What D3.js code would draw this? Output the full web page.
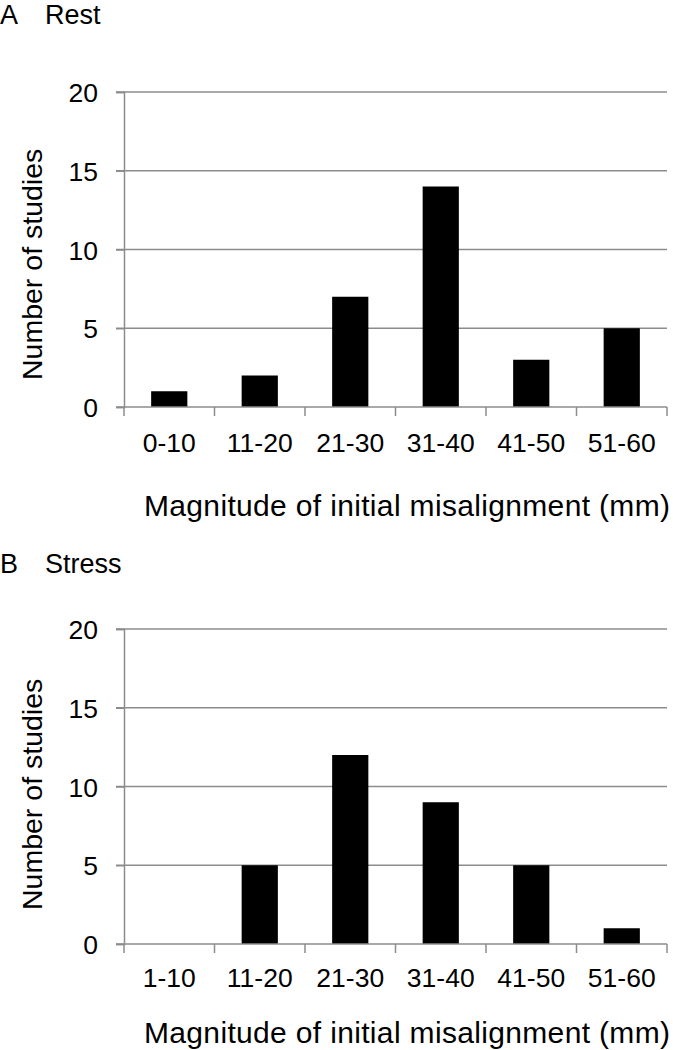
<!DOCTYPE html>
<html>
<head>
<meta charset="utf-8">
<script src="https://cdn.jsdelivr.net/npm/d3@7"></script>
<style>
  body { margin: 0; background: #fff; }
  svg text { font-family: "Liberation Sans", Arial, sans-serif; fill: #000; }
</style>
</head>
<body>
<svg id="chart" width="673" height="1050"></svg>
<script>
// data
const restCategories = ["0-10", "11-20", "21-30", "31-40", "41-50", "51-60"];
const restCounts = [1, 2, 7, 14, 3, 5];
const stressCategories = ["1-10", "11-20", "21-30", "31-40", "41-50", "51-60"];
const stressCounts = [0, 5, 12, 9, 5, 1];
const yTickValues = [0, 5, 10, 15, 20];
const xTitle = "Magnitude of initial misalignment (mm)";
const yTitle = "Number of studies";

const svg = d3.select("#chart");
const GRID = "#8c8c8c";
const FS = 26.5;

const drawPanel = ({ letter, name, categories, counts, titleY, top, bottom, tickLabelY, xTitleY, yTitleStart }) => {
  const g = svg.append("g");
  const x = d3.scaleBand().domain(categories).range([124, 667]).paddingInner(0).paddingOuter(0);
  const y = d3.scaleLinear().domain([0, 20]).range([bottom, top]);

  g.append("text").attr("x", 0).attr("y", titleY).style("font-size", "27px").text(letter);
  g.append("text").attr("x", 45).attr("y", titleY).style("font-size", "27px").text(name);

  // gridlines
  g.selectAll("line.grid")
    .data(yTickValues.filter((d) => d > 0))
    .enter()
    .append("line")
    .attr("class", "grid")
    .attr("x1", 116).attr("x2", 667)
    .attr("y1", (d) => y(d)).attr("y2", (d) => y(d))
    .attr("stroke", GRID).attr("stroke-width", 1.5);

  // bars
  const barW = x.bandwidth() * 0.4;
  g.selectAll("rect")
    .data(counts)
    .enter()
    .append("rect")
    .attr("x", (d, i) => x(categories[i]) + (x.bandwidth() - barW) / 2)
    .attr("y", (d) => y(d))
    .attr("width", barW)
    .attr("height", (d) => y(0) - y(d))
    .attr("fill", "#000");

  // y axis
  const yAxis = g.append("g")
    .attr("transform", "translate(124,0)")
    .call(d3.axisLeft(y).tickValues(yTickValues).tickSize(8).tickPadding(18));
  yAxis.select(".domain").attr("stroke", GRID).attr("stroke-width", 1.5);
  yAxis.selectAll(".tick line").attr("stroke", GRID).attr("stroke-width", 1.5);
  yAxis.selectAll(".tick text")
    .style("font-size", FS + "px")
    .attr("font-family", null)
    .attr("dy", "0.36em");

  // x axis: domain plus boundary ticks
  g.append("line")
    .attr("x1", 116).attr("x2", 667)
    .attr("y1", bottom).attr("y2", bottom)
    .attr("stroke", GRID).attr("stroke-width", 1.5);
  const edges = categories.map((c) => x(c)).concat([x.range()[1]]);
  g.selectAll("line.xtick")
    .data(edges)
    .enter()
    .append("line")
    .attr("class", "xtick")
    .attr("x1", (d) => d).attr("x2", (d) => d)
    .attr("y1", bottom).attr("y2", bottom + 9)
    .attr("stroke", GRID).attr("stroke-width", 1.5);
  g.selectAll("text.xlab")
    .data(categories)
    .enter()
    .append("text")
    .attr("class", "xlab")
    .attr("x", (d) => x(d) + x.bandwidth() / 2)
    .attr("y", tickLabelY)
    .attr("text-anchor", "middle")
    .style("font-size", FS + "px")
    .text((d) => d);

  g.append("text")
    .attr("x", 144).attr("y", xTitleY)
    .attr("textLength", 526)
    .style("font-size", "30px")
    .text(xTitle);

  g.append("text")
    .attr("transform", `translate(42,${yTitleStart}) rotate(-90)`)
    .style("font-size", "28.5px")
    .text(yTitle);
};

drawPanel({
  letter: "A", name: "Rest",
  categories: restCategories, counts: restCounts,
  titleY: 24, top: 92, bottom: 407, tickLabelY: 452, xTitleY: 516, yTitleStart: 380,
});
drawPanel({
  letter: "B", name: "Stress",
  categories: stressCategories, counts: stressCounts,
  titleY: 573, top: 629, bottom: 944, tickLabelY: 987, xTitleY: 1043, yTitleStart: 910,
});
</script>
</body>
</html>
